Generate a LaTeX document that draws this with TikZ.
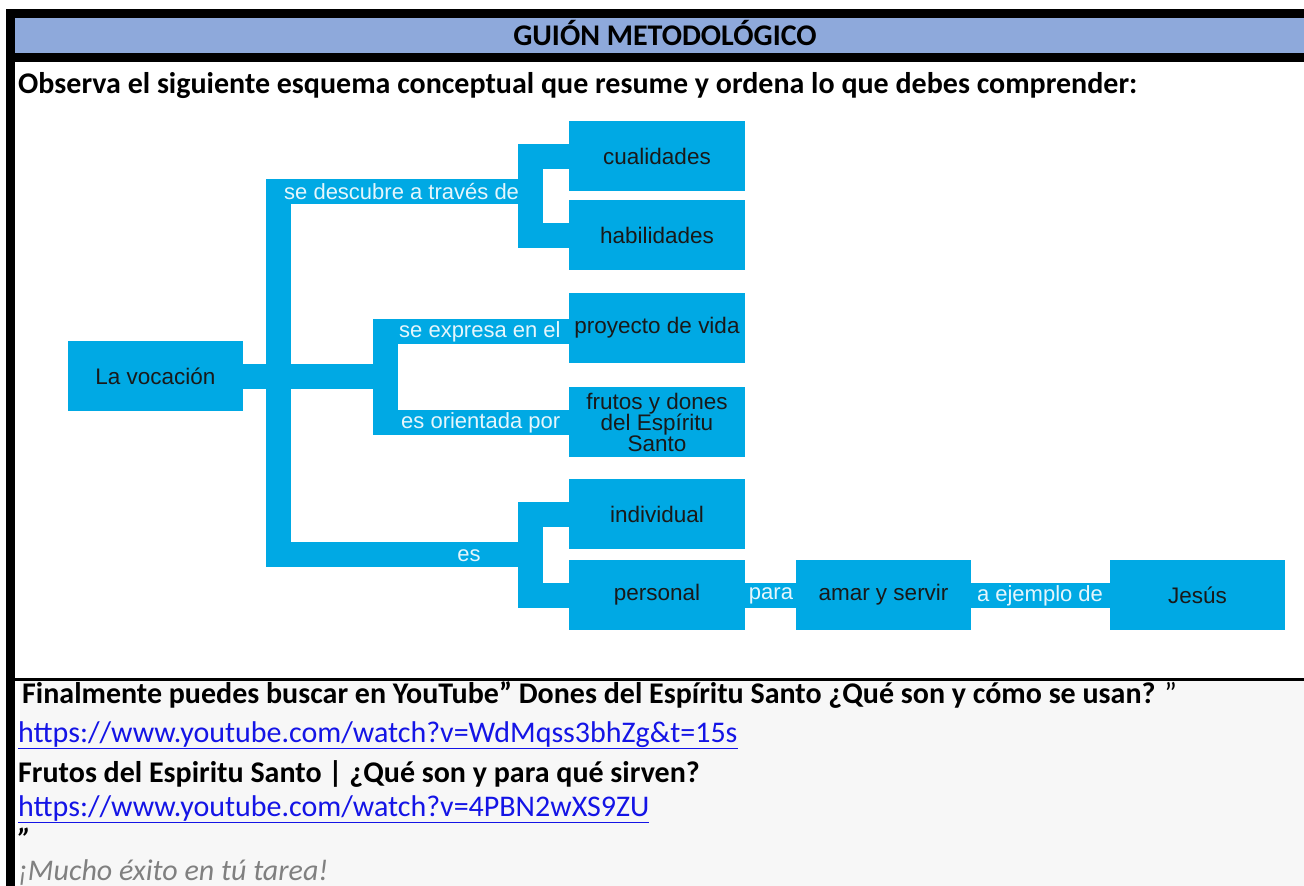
\documentclass[tikz,border=0pt]{standalone}
\usepackage{fontspec}
\setmainfont{Carlito}
\newfontfamily\mapfont{Liberation Sans}
\usetikzlibrary{positioning}
\definecolor{mapblue}{RGB}{0,169,228}
\definecolor{headblue}{RGB}{142,169,219}
\definecolor{notegray}{RGB}{247,247,247}
\definecolor{linkblue}{RGB}{20,20,230}

\begin{document}
\begin{tikzpicture}[x=1pt,y=-1pt,
		concept/.style={fill=mapblue, minimum width=176pt, minimum height=70pt, inner sep=2pt,
			font=\mapfont\fontsize{22.5}{24}\selectfont, text=black!90, align=center},
		bar/.style={draw=mapblue, line width=25pt},
		barlabel/.style={font=\mapfont\fontsize{22}{24}\selectfont, text=white!90!mapblue, inner sep=0pt},
		textline/.style={anchor=base west, inner sep=0pt, font=\fontsize{30}{36}\selectfont},
		boldline/.style={textline, font=\bfseries\fontsize{30}{36}\selectfont}]
	\useasboundingbox (0,0) rectangle (1304,886);
	\fill (6,9) rectangle (1304,62);
	\fill[headblue] (15,18) rectangle (1304,53);
	\fill (6,9) rectangle (15,886);
	\fill[notegray] (20,680) rectangle (1304,886);
	\fill (15,678) rectangle (1304,680.5);
	\node[boldline, anchor=base] (guion) at (665,45.5) {GUIÓN METODOLÓGICO};
	\node[boldline] (observa) at (18,93)
		{Observa el siguiente esquema conceptual que resume y ordena lo que debes comprender:};

	\node[concept, minimum width=175pt] (voc) at (155.5,376) {La vocación};
	\node[concept] (cual) at (657,156) {cualidades};
	\node[concept] (habil) at (657,235) {habilidades};
	\node[concept] (proy) at (657,327.5) {proyecto de vida};
	\node[concept, inner sep=0pt] (frutos) at (657,422) {frutos y dones\\[-3pt]del Espíritu\\[-3pt]Santo};
	\node[concept] (indiv) at (657,514) {individual};
	\node[concept] (pers) at (657,595) {personal};
	\node[concept, minimum width=175pt] (amar) at (883.5,595) {amar y servir};
	\node[concept, minimum width=175pt] (jesus) at (1197.5,595) {Jesús};
	\coordinate (upj) at (530.5,191);
	\coordinate (midj) at (385,376);
	\coordinate (lowj) at (530.5,554);
	\coordinate (spine) at (278.5,376);

	\draw[bar] (upj) -| (spine) |- (lowj);
	\draw[bar] (voc.east) -- (midj);
	\draw[bar] (cual.west) -| (upj) |- (habil.west);
	\draw[bar] ([yshift=-4pt]proy.west) -| (midj) |- (frutos.west);
	\draw[bar] (indiv.west) -| (lowj) |- (pers.west);
	\draw[bar] (pers.east) -- (amar.west);
	\draw[bar] (amar.east) -- (jesus.west);
	\node[barlabel, anchor=west] (descubre) at (284,192) {se descubre a través de};
	\node[barlabel, anchor=west] (expresa) at (399,332) {se expresa en el};
	\node[barlabel, anchor=west] (orienta) at (401,423) {es orientada por};
	\node[barlabel] (es) at (469,556) {es};
	\node[barlabel] (para) at (771,596) {para};
	\node[barlabel] (ejemplo) at (1040,596) {a ejemplo de};

	\node[boldline] (busca) at (22,703)
		{Finalmente puedes buscar en YouTube” Dones del Espíritu Santo ¿Qué son y cómo se usan?\hspace{9pt}{\mdseries ”}};
	\node[textline, text=linkblue] (url1) at (18,742) {\underline{https://www.youtube.com/watch?v=WdMqss3bhZg\&t=15s}};
	\node[boldline] (frutostxt) at (18,782)
		{Frutos del Espiritu Santo | ¿Qué son y para qué sirven?};
	\node[textline, text=linkblue] (url2) at (18,816) {\underline{https://www.youtube.com/watch?v=4PBN2wXS9ZU}};
	\node[textline, font=\bfseries\itshape\fontsize{30}{36}\selectfont] (cierre) at (18,849) {”};
	\node[textline, text=black!50, font=\itshape\fontsize{30}{36}\selectfont] (exito) at (18,880) {¡Mucho éxito en tú tarea!};
\end{tikzpicture}
\end{document}
